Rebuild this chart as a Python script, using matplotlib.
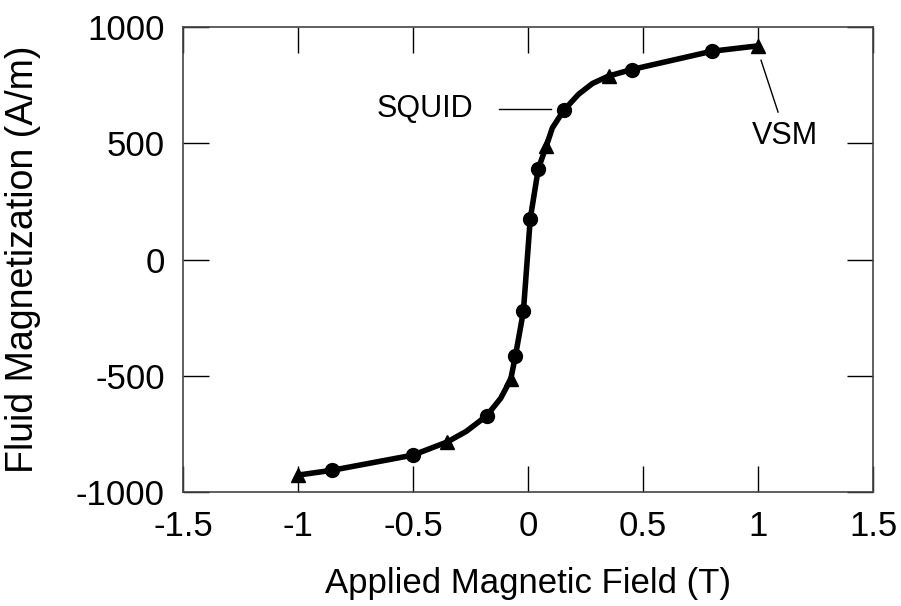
import numpy as np
import matplotlib.pyplot as plt

plt.rcParams.update({
    'font.family': ['Liberation Sans', 'DejaVu Sans'],
    'axes.unicode_minus': False,
    'xtick.direction': 'in',
    'ytick.direction': 'in',
    'xtick.top': True,
    'ytick.right': True,
})

# SQUID measurements (circles)
squid_field = [-0.85, -0.5, -0.18, -0.055, -0.02, 0.01, 0.045, 0.155, 0.45, 0.8]
squid_mag = [-906, -841, -672, -416, -223, 177, 392, 642, 818, 897]

# VSM measurements (triangles)
vsm_field = [-1.0, -0.35, -0.075, 0.08, 0.35, 1.0]
vsm_mag = [-927, -784, -515, 490, 790, 920]

# extra points read along the drawn curve between markers
curve_field = [-0.267, -0.119, 0.106, 0.22, 0.28]
curve_mag = [-738, -597, 567, 712, 758]

xticks = [-1.5, -1, -0.5, 0, 0.5, 1, 1.5]
xtick_labels = ['-1.5', '-1', '-0.5', '0', '0.5', '1', '1.5']
yticks = [-1000, -500, 0, 500, 1000]

fig = plt.figure(figsize=(9.01, 6.06), dpi=100)
ax = fig.add_axes([0.203, 0.188, 0.766, 0.767])

# fitted curve through both data sets
all_x = np.array(squid_field + vsm_field + curve_field)
all_y = np.array(squid_mag + vsm_mag + curve_mag)
order = np.argsort(all_x)
ax.plot(all_x[order], all_y[order], color='black', linewidth=4,
        solid_capstyle='round', solid_joinstyle='round', zorder=2)

ax.plot(squid_field, squid_mag, 'o', color='black', markersize=10, zorder=3)
ax.plot(vsm_field, vsm_mag, '^', color='black', markersize=10, zorder=3)

# labels with leader lines
ax.plot([-0.128, 0.098], [648, 648], color='black', linewidth=1)
ax.text(-0.236, 648, 'SQUID', ha='right', va='center', fontsize=22)
ax.plot([1.013, 1.087], [858, 635], color='black', linewidth=1)
ax.text(1.117, 530, 'VSM', ha='center', va='center', fontsize=22)

ax.set_xlim(-1.5, 1.5)
ax.set_ylim(-1000, 1000)
ax.set_xticks(xticks)
ax.set_xticklabels(xtick_labels)
ax.set_yticks(yticks)
ax.tick_params(length=19, width=1, labelsize=25, pad=13)
for s in ax.spines.values():
    s.set_linewidth(1.2)
    s.set_color('#444444')

ax.set_xlabel('Applied Magnetic Field (T)', fontsize=25, labelpad=17)
ax.set_ylabel('Fluid Magnetization (A/m)', fontsize=27, labelpad=10)
ax.yaxis.set_label_coords(-0.205, 0.5)

fig.savefig('out.png', dpi=100)
